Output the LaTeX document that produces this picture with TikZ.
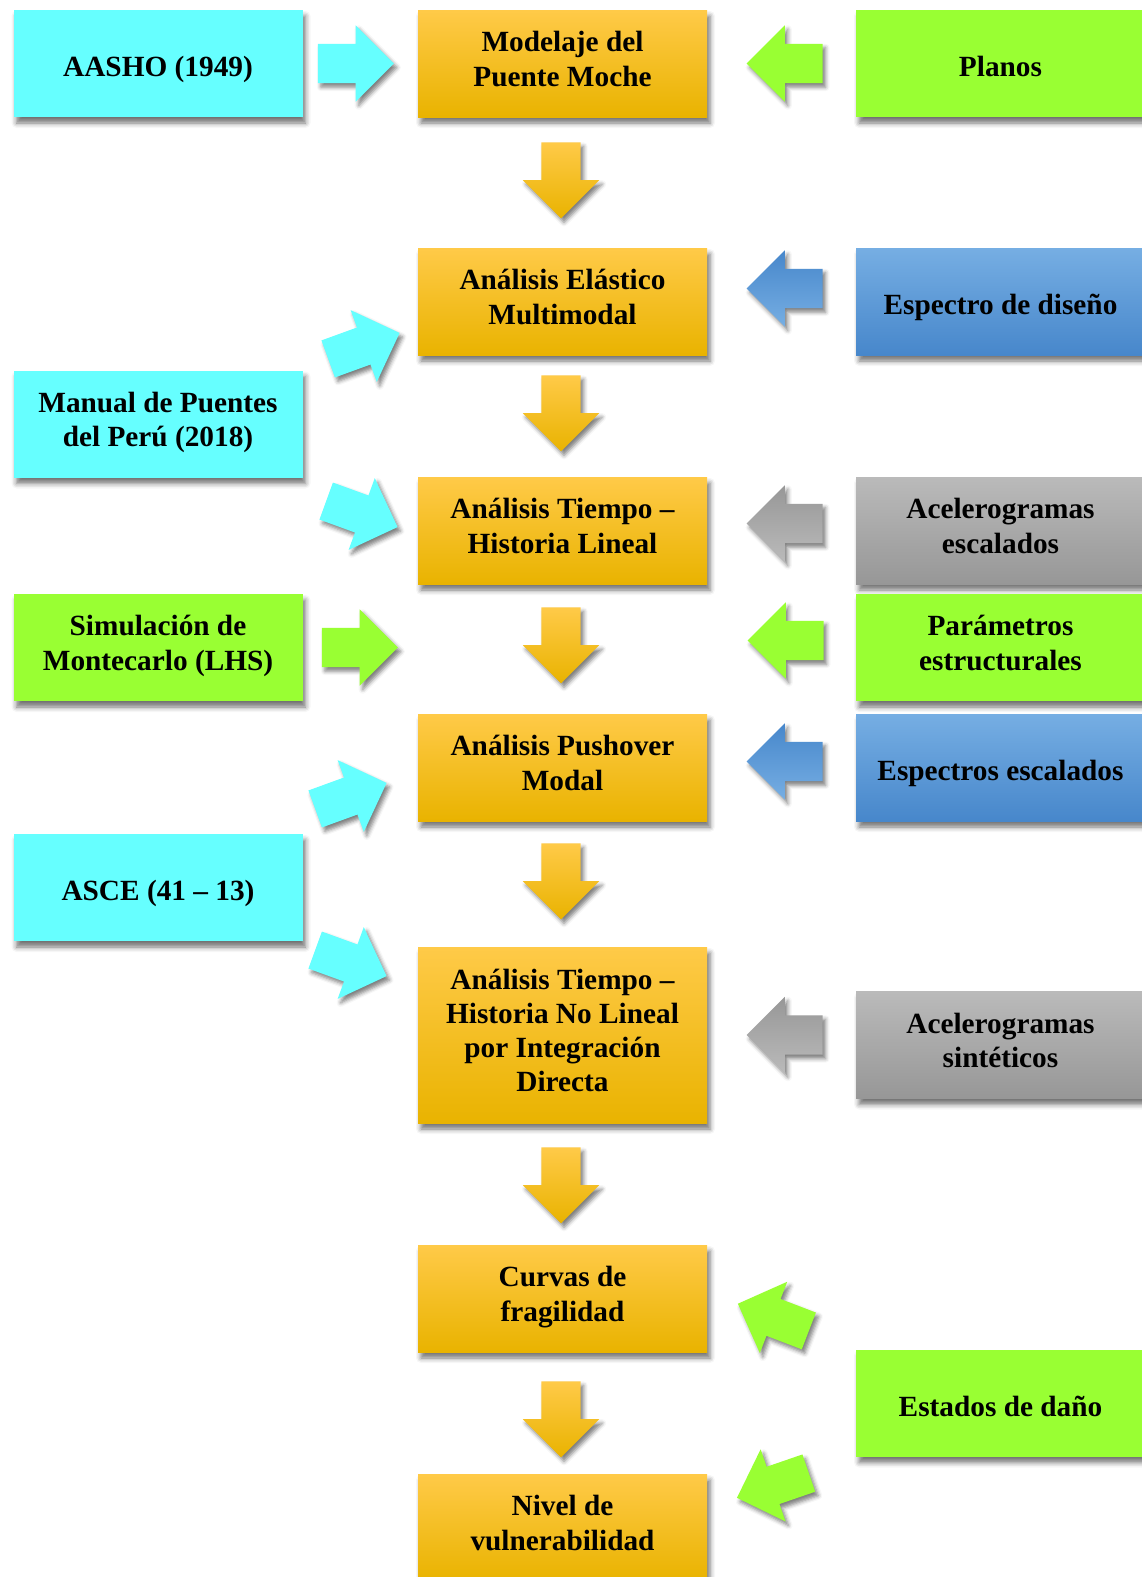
\documentclass[tikz,border=0pt]{standalone}
\usepackage{fontspec}
\setmainfont{Liberation Serif}
\usetikzlibrary{shapes.arrows,shadows.blur,calc}
\definecolor{cian}{HTML}{66FFFF}
\definecolor{verde}{HTML}{99FF33}
\definecolor{naranja}{HTML}{FFC000}
\definecolor{naranjaA}{HTML}{FFCA48}
\definecolor{naranjaB}{HTML}{E9B300}
\definecolor{azul}{HTML}{5B9BD5}
\definecolor{azulA}{HTML}{76AEE3}
\definecolor{azulB}{HTML}{4787CB}
\definecolor{gris}{HTML}{A6A6A6}
\definecolor{grisA}{HTML}{BABABA}
\definecolor{grisB}{HTML}{979797}
\tikzstyle{box} = [rectangle, minimum width=289pt, minimum height=107pt,
    inner sep=0pt, align=center, font=\bfseries\fontsize{29.3}{34.2}\selectfont,
    execute at begin node={\rule{0pt}{28pt}},
    execute at end node={\rule[-9.2pt]{0pt}{9.2pt}},
    blur shadow={shadow xshift=3pt, shadow yshift=-6pt, shadow blur radius=5pt, shadow opacity=55}]
\tikzstyle{uno} = [text height=30pt, text depth=4pt]
\tikzstyle{etapa} = [box, top color=naranjaA, middle color=naranja, bottom color=naranjaB]
\tikzstyle{norma} = [box, fill=cian]
\tikzstyle{dato} = [box, fill=verde]
\tikzstyle{espectro} = [box, top color=azulA, middle color=azul, bottom color=azulB]
\tikzstyle{registro} = [box, top color=grisA, middle color=gris, bottom color=grisB]
\tikzstyle{flecha} = [single arrow, inner xsep=0pt, inner ysep=19.5pt,
    single arrow head extend=18.5pt, minimum height=76pt, anchor=tail,
    blur shadow={shadow xshift=3pt, shadow yshift=-4pt, shadow blur radius=4pt, shadow opacity=50}]
\tikzstyle{bajada} = [flecha, rotate=-90, top color=naranjaA, bottom color=naranjaB]
\tikzstyle{fazul} = [flecha, rotate=180, top color=azulB, bottom color=azulA]
\tikzstyle{fgris} = [flecha, rotate=180, top color=grisB, bottom color=grisA]

\begin{document}
\begin{tikzpicture}[x=1pt, y=-1pt]
    \useasboundingbox (0,0) rectangle (1142,1577);
    % Place nodes
    \node [etapa] (modelo) at (562.5,63.5) {Modelaje del\\Puente Moche};
    \node [etapa, below of=modelo, node distance=238pt] (elastico) {Análisis Elástico\\Multimodal};
    \node [etapa, below of=elastico, node distance=229pt] (lineal) {Análisis Tiempo –\\Historia Lineal};
    \node [etapa, below of=lineal, node distance=237pt] (pushover) {Análisis Pushover\\Modal};
    \node [etapa, below of=pushover, node distance=267.5pt, minimum height=176pt] (nolineal) {Análisis Tiempo –\\Historia No Lineal\\por Integración\\Directa};
    \node [etapa, below of=nolineal, node distance=263.5pt] (curvas) {Curvas de\\fragilidad};
    \node [etapa, below of=curvas, node distance=229pt] (nivel) {Nivel de\\vulnerabilidad};
    \node [norma, uno, left of=modelo, node distance=404.5pt] (aasho) {AASHO (1949)};
    \node [norma, below of=aasho, node distance=360.5pt] (manual) {Manual de Puentes\\del Perú (2018)};
    \node [dato, below of=manual, node distance=223.5pt] (montecarlo) {Simulación de\\Montecarlo (LHS)};
    \node [norma, uno, below of=montecarlo, node distance=240pt] (asce) {ASCE (41 – 13)};
    \node [dato, uno, right of=modelo, node distance=438pt] (planos) {Planos};
    \node [espectro, uno, right of=elastico, node distance=438pt] (disenio) {Espectro de diseño};
    \node [registro, right of=lineal, node distance=438pt] (acelesc) {Acelerogramas\\escalados};
    \node [dato, below of=acelesc, node distance=117pt] (parametros) {Parámetros\\estructurales};
    \node [espectro, uno, right of=pushover, node distance=438pt] (espectros) {Espectros escalados};
    \node [registro, below of=espectros, node distance=277.5pt] (acelsint) {Acelerogramas\\sintéticos};
    \node [dato, uno, below of=acelsint, node distance=358pt] (danio) {Estados de daño};
    % Draw arrows
    \node [bajada] (b1) at ($(modelo.south)+(-1.5pt,-25pt)$) {};
    \node [bajada] (b2) at ($(elastico.south)+(-1.5pt,-20pt)$) {};
    \node [bajada] (b3) at ($(lineal.south)+(-1.5pt,-23pt)$) {};
    \node [bajada] (b4) at ($(pushover.south)+(-1.5pt,-22pt)$) {};
    \node [bajada] (b5) at ($(nolineal.south)+(-1.5pt,-24pt)$) {};
    \node [bajada] (b6) at ($(curvas.south)+(-1.5pt,-29pt)$) {};
    \node [flecha, fill=cian] (fa) at ($(aasho.east)+(15pt,0)$) {};
    \node [flecha, fill=cian, rotate=20] (fm1) at (328,359) {};
    \node [flecha, fill=cian, rotate=-20] (fm2) at (326,501) {};
    \node [flecha, fill=verde] (fs) at ($(montecarlo.east)+(19pt,0)$) {};
    \node [flecha, fill=cian, rotate=20] (fc1) at (315,809) {};
    \node [flecha, fill=cian, rotate=-20] (fc2) at (315,950) {};
    \node [flecha, fill=verde, rotate=180] (fp) at ($(planos.west)+(-33pt,0)$) {};
    \node [fazul] (fd) at ($(disenio.west)+(-33pt,13pt)$) {};
    \node [fgris] (fe) at ($(acelesc.west)+(-33pt,7pt)$) {};
    \node [flecha, fill=verde, rotate=180] (fpa) at ($(parametros.west)+(-32pt,7pt)$) {};
    \node [fazul] (fes) at ($(espectros.west)+(-33pt,6pt)$) {};
    \node [fgris] (fas) at ($(acelsint.west)+(-33pt,10pt)$) {};
    \node [flecha, fill=verde, rotate=159] (fd1) at (809,1331) {};
    \node [flecha, fill=verde, rotate=-161] (fd2) at (809,1473) {};
\end{tikzpicture}
\end{document}
